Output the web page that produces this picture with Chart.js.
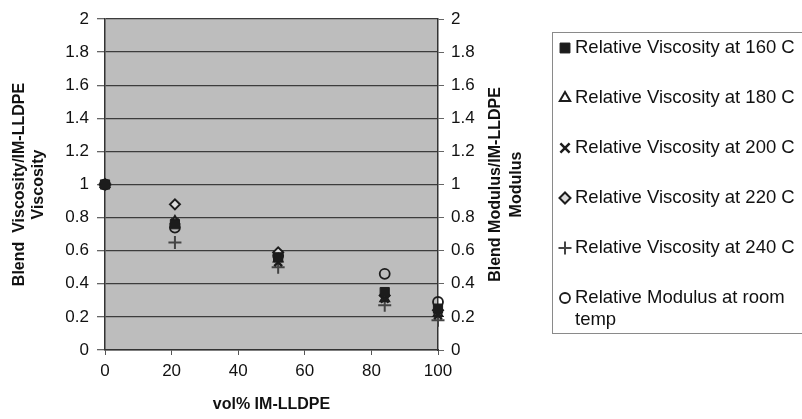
<!DOCTYPE html>
<html>
<head>
<meta charset="utf-8">
<script src="https://cdn.jsdelivr.net/npm/chart.js@4.4.1/dist/chart.umd.min.js"></script>
<style>
  html, body { margin: 0; padding: 0; background: #fff; overflow: hidden; }
  #wrap { position: relative; width: 802px; height: 419px; }
</style>
</head>
<body>
<div id="wrap"><canvas id="c" width="802" height="419"></canvas></div>
<script>
// Blend composition (vol% IM-LLDPE)
const blendVol = [0, 21, 52, 84, 100];

// Relative viscosity (blend / IM-LLDPE) at each melt temperature
const visc160 = [1.00, 0.76, 0.56, 0.35, 0.25];
const visc180 = [1.00, 0.78, 0.55, 0.31, 0.22];
const visc200 = [1.00, 0.77, 0.53, 0.31, 0.21];
const visc220 = [1.00, 0.88, 0.59, 0.33, 0.24];
const visc240 = [1.00, 0.65, 0.50, 0.27, 0.18];

// Relative modulus (blend / IM-LLDPE) at room temperature
const modulusRoom = [1.00, 0.74, 0.57, 0.46, 0.29];

const seriesNames = [
  'Relative Viscosity at 160 C',
  'Relative Viscosity at 180 C',
  'Relative Viscosity at 200 C',
  'Relative Viscosity at 220 C',
  'Relative Viscosity at 240 C',
  'Relative Modulus at room temp'
];

const xTicks = [0, 20, 40, 60, 80, 100];
const yTicks = [0, 0.2, 0.4, 0.6, 0.8, 1, 1.2, 1.4, 1.6, 1.8, 2];

const FONT = "'Liberation Sans', Arial, sans-serif";
const INK = '#1c1c1c';

const pts = arr => blendVol.map((x, i) => ({ x: x, y: arr[i] }));

const markerStyles = [
  { pointStyle: 'rect',     pointRadius: 6.5, backgroundColor: INK,       borderColor: INK, borderWidth: 1,   legendRadius: 7 },
  { pointStyle: 'triangle', pointRadius: 5,   backgroundColor: 'rgba(0,0,0,0)', borderColor: INK, borderWidth: 2, legendRadius: 6 },
  { pointStyle: 'crossRot', pointRadius: 5.5, backgroundColor: INK,       borderColor: INK, borderWidth: 2.5, legendRadius: 6.5 },
  { pointStyle: 'rectRot',  pointRadius: 5,   backgroundColor: '#dcdcdc', borderColor: INK, borderWidth: 2,   legendRadius: 5.5 },
  { pointStyle: 'cross',    pointRadius: 6.5, backgroundColor: '#444',    borderColor: '#444', borderWidth: 2, legendRadius: 6.5 },
  { pointStyle: 'circle',   pointRadius: 5,   backgroundColor: 'rgba(0,0,0,0)', borderColor: INK, borderWidth: 1.8, legendRadius: 5 }
];

const seriesData = [visc160, visc180, visc200, visc220, visc240, modulusRoom];

const datasets = seriesData.map((arr, i) => Object.assign({
  label: seriesNames[i],
  data: pts(arr),
  showLine: false,
  clip: false,
  yAxisID: i === 5 ? 'y2' : 'y'
}, markerStyles[i]));

// Gray plot area fill
const plotBackground = {
  id: 'plotBackground',
  beforeDraw(chart) {
    const { ctx, chartArea: a } = chart;
    ctx.save();
    ctx.fillStyle = '#bdbdbd';
    ctx.fillRect(a.left, a.top, a.right - a.left, a.bottom - a.top);
    ctx.restore();
  }
};

// Axis titles (both vertical titles read bottom-to-top) and the boxed legend
const titlesAndLegend = {
  id: 'titlesAndLegend',
  afterDraw(chart) {
    const { ctx, chartArea: a } = chart;
    const midY = (a.top + a.bottom) / 2;
    const midX = (a.left + a.right) / 2;
    ctx.save();
    ctx.fillStyle = '#111';
    ctx.font = 'bold 16px ' + FONT;
    ctx.textAlign = 'center';
    ctx.textBaseline = 'middle';

    const vTitle = (x, text) => {
      ctx.save();
      ctx.translate(x, midY);
      ctx.rotate(-Math.PI / 2);
      ctx.fillText(text, 0, 0);
      ctx.restore();
    };
    vTitle(20, 'Blend  Viscosity/IM-LLDPE');
    vTitle(39, 'Viscosity');
    vTitle(496, 'Blend Modulus/IM-LLDPE');
    vTitle(517, 'Modulus');

    ctx.fillText('vol% IM-LLDPE', midX, 405);

    // Legend box
    ctx.strokeStyle = '#8a8a8a';
    ctx.lineWidth = 1;
    ctx.strokeRect(552.5, 32.5, 270, 301);

    ctx.font = '18.5px ' + FONT;
    ctx.textAlign = 'left';
    const rowY = [48, 98, 148, 198, 248, 298];
    chart.data.datasets.forEach((ds, i) => {
      const y = rowY[i];
      ctx.save();
      ctx.fillStyle = ds.backgroundColor;
      ctx.strokeStyle = ds.borderColor;
      ctx.lineWidth = ds.borderWidth;
      Chart.helpers.drawPoint(ctx, { pointStyle: ds.pointStyle, radius: ds.legendRadius, rotation: 0, borderWidth: ds.borderWidth }, 565, y);
      ctx.restore();
      ctx.fillStyle = '#111';
      if (i === 5) {
        ctx.fillText('Relative Modulus at room', 575, y);
        ctx.fillText('temp', 575, y + 22);
      } else {
        ctx.fillText(ds.label, 575, y);
      }
    });
    ctx.restore();
  }
};

const tickFont = { family: FONT, size: 17 };
const fmt = v => String(Math.round(v * 10) / 10);

new Chart(document.getElementById('c'), {
  type: 'scatter',
  data: { datasets: datasets },
  options: {
    responsive: false,
    animation: false,
    events: [],
    layout: { padding: { top: 19, left: 0, right: 0, bottom: 0 } },
    plugins: { legend: { display: false }, tooltip: { enabled: false } },
    scales: {
      x: {
        type: 'linear',
        min: 0, max: 100,
        afterBuildTicks: s => { s.ticks = xTicks.map(v => ({ value: v })); },
        ticks: { color: '#111', font: tickFont, padding: 6, maxRotation: 0, callback: fmt },
        grid: { drawOnChartArea: false, drawTicks: true, tickLength: 5, color: '#555', lineWidth: 1 },
        border: { display: true, color: '#333', width: 1.5 },
        afterFit: s => { s.height = 69; }
      },
      y: {
        position: 'left',
        min: 0, max: 2,
        afterBuildTicks: s => { s.ticks = yTicks.map(v => ({ value: v })); },
        ticks: { color: '#111', font: tickFont, padding: 8, callback: fmt },
        grid: { color: '#3c3c3c', lineWidth: 1.3, tickLength: 8, tickColor: '#666' },
        border: { display: true, color: '#333', width: 1.5 },
        afterFit: s => { s.width = 105; }
      },
      y2: {
        position: 'right',
        min: 0, max: 2,
        afterBuildTicks: s => { s.ticks = yTicks.map(v => ({ value: v })); },
        ticks: { color: '#111', font: tickFont, padding: 7, callback: fmt },
        grid: { drawOnChartArea: false, tickLength: 6, color: '#666' },
        border: { display: true, color: '#333', width: 1.5 },
        afterFit: s => { s.width = 364; }
      }
    }
  },
  plugins: [plotBackground, titlesAndLegend]
});
</script>
</body>
</html>
